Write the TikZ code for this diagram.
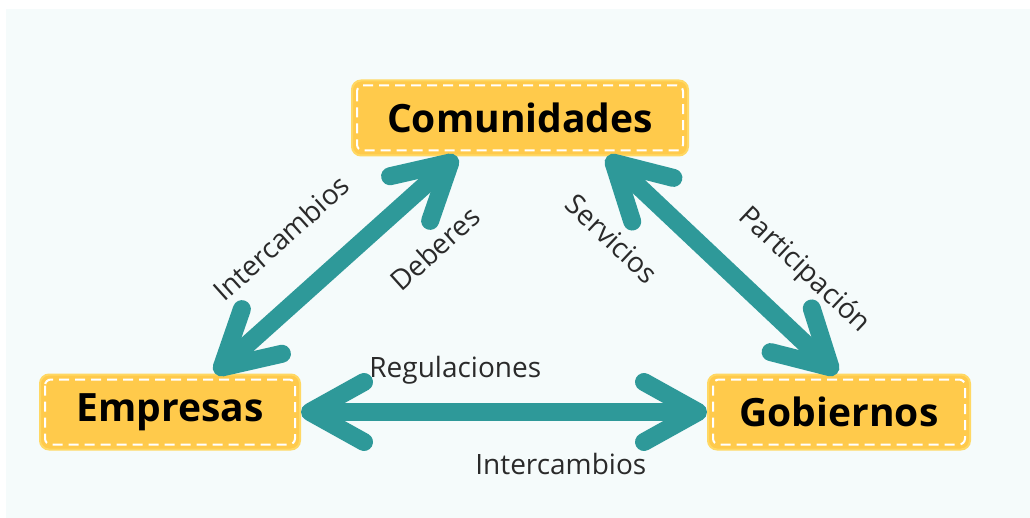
\documentclass[tikz,border=0pt]{standalone}
\usepackage{fontspec}
\setmainfont{Open Sans}
\usepackage{xcolor}
\usetikzlibrary{arrows.meta, positioning}

\definecolor{panelbg}{HTML}{F5FBFB}
\definecolor{boxfill}{HTML}{FFCA4B}
\definecolor{boxedge}{HTML}{FFD863}
\definecolor{arrowteal}{HTML}{2E9999}
\definecolor{labelgray}{HTML}{2A2A2A}

\begin{document}
\begin{tikzpicture}[
    x=1pt, y=-1pt,
    actor/.style={draw=boxedge, line width=2pt, fill=boxfill, rounded corners=9pt,
        minimum height=75pt, font=\fontsize{39}{42}\selectfont\bfseries, text=black},
    innerdash/.style={draw=white, line width=2pt, rounded corners=6pt, dash pattern=on 10pt off 6pt},
    link/.style={draw=arrowteal, line width=18pt,
        {Straight Barb[round, length=54pt, width=60pt]}-{Straight Barb[round, length=54pt, width=60pt]}},
    tag/.style={font=\fontsize{28}{30}\selectfont, text=labelgray, inner sep=2pt}
]

% Background
\fill[white] (0,0) rectangle (1030,518);
\fill[panelbg] (6,9) rectangle (1030,518);
\useasboundingbox (0,0) rectangle (1030,518);

% Boxes
\node[actor, minimum width=336pt] (com) at (520,118) {Comunidades};
\node[actor, minimum width=260pt] (emp) at (170,412) {Empresas};
\node[actor, minimum width=262pt] (gob) at (839,412) {Gobiernos};

\foreach \n in {com, emp, gob}
    \draw[innerdash] ([shift={(6pt,-6pt)}]\n.north west) rectangle ([shift={(-6pt,6pt)}]\n.south east);

% Arrows
\draw[link] ([xshift=45pt]emp.north) -- ([xshift=-63pt]com.south)
    node[tag, sloped, pos=0.43, above=35pt] (l1) {Intercambios}
    node[tag, sloped, pos=0.76, below=32pt] (l2) {Deberes};
\draw[link] ([xshift=87pt]com.south) -- ([xshift=-2pt]gob.north)
    node[tag, sloped, pos=0.19, below=35pt] (l3) {Servicios}
    node[tag, sloped, pos=0.70, above=27pt] (l4) {Participación};
\draw[link] (emp.east) -- (gob.west)
    node[tag, pos=0.38, above=17pt] (l5) {Regulaciones}
    node[tag, pos=0.64, below=30pt] (l6) {Intercambios};

\end{tikzpicture}
\end{document}
